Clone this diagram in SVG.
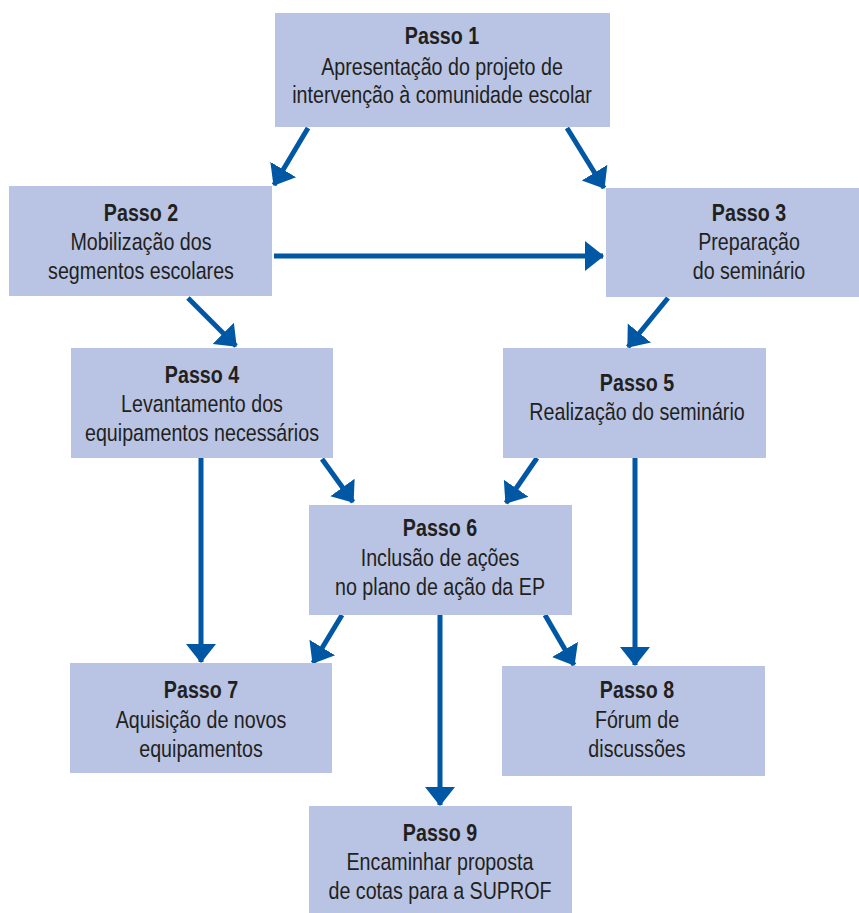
<svg xmlns="http://www.w3.org/2000/svg" width="859" height="913" viewBox="0 0 859 913">
<defs>
<style>
.box{fill:#b9c4e4;}
.t{font-family:"Liberation Sans",Arial,sans-serif;font-size:24px;fill:#231f20;text-anchor:middle;}
.b{font-weight:bold;}
.c{stroke:#0057a3;stroke-width:5;fill:none;marker-end:url(#ah);}
</style>
<marker id="ah" markerUnits="userSpaceOnUse" markerWidth="20" markerHeight="32" viewBox="0 -16 20 32" refX="18" refY="0" orient="auto">
<path d="M0,-15 L19,0 L0,15 z" fill="#0057a3"/>
</marker>
</defs>
<rect width="859" height="913" fill="#ffffff"/>
<g id="connectors">
<line class="c" x1="308" y1="128" x2="274" y2="185"/>
<line class="c" x1="567" y1="128" x2="604" y2="188"/>
<line class="c" x1="274" y1="256" x2="603" y2="256"/>
<line class="c" x1="188" y1="298" x2="236" y2="346"/>
<line class="c" x1="668" y1="298" x2="628" y2="347"/>
<line class="c" x1="322" y1="459" x2="353" y2="502"/>
<line class="c" x1="537" y1="458" x2="506" y2="503"/>
<line class="c" x1="201" y1="458" x2="201" y2="662"/>
<line class="c" x1="635" y1="458" x2="635" y2="665"/>
<line class="c" x1="342" y1="615" x2="313" y2="663"/>
<line class="c" x1="545" y1="615" x2="574" y2="665"/>
<line class="c" x1="440" y1="615" x2="440" y2="805"/>
</g>
<g id="passo1">
<rect class="box" x="275" y="13" width="335" height="114"/>
<g transform="translate(442 0) scale(0.82 1)">
<text class="t b" x="0" y="44">Passo 1</text>
<text class="t" x="0" y="75">Apresentação do projeto de</text>
<text class="t" x="0" y="103">intervenção à comunidade escolar</text>
</g>
</g>
<g id="passo2">
<rect class="box" x="9" y="186" width="263" height="110"/>
<g transform="translate(141 0) scale(0.82 1)">
<text class="t b" x="0" y="221">Passo 2</text>
<text class="t" x="0" y="250">Mobilização dos</text>
<text class="t" x="0" y="279">segmentos escolares</text>
</g>
</g>
<g id="passo3">
<rect class="box" x="606" y="188" width="253" height="109"/>
<g transform="translate(749 0) scale(0.82 1)">
<text class="t b" x="0" y="221">Passo 3</text>
<text class="t" x="0" y="250">Preparação</text>
<text class="t" x="0" y="279">do seminário</text>
</g>
</g>
<g id="passo4">
<rect class="box" x="71" y="348" width="262" height="110"/>
<g transform="translate(202 0) scale(0.82 1)">
<text class="t b" x="0" y="383">Passo 4</text>
<text class="t" x="0" y="412">Levantamento dos</text>
<text class="t" x="0" y="441">equipamentos necessários</text>
</g>
</g>
<g id="passo5">
<rect class="box" x="503" y="348" width="263" height="110"/>
<g transform="translate(637 0) scale(0.82 1)">
<text class="t b" x="0" y="391">Passo 5</text>
<text class="t" x="0" y="420">Realização do seminário</text>
</g>
</g>
<g id="passo6">
<rect class="box" x="309" y="505" width="263" height="110"/>
<g transform="translate(440 0) scale(0.82 1)">
<text class="t b" x="0" y="536">Passo 6</text>
<text class="t" x="0" y="566">Inclusão de ações</text>
<text class="t" x="0" y="595">no plano de ação da EP</text>
</g>
</g>
<g id="passo7">
<rect class="box" x="70" y="663" width="262" height="110"/>
<g transform="translate(201 0) scale(0.82 1)">
<text class="t b" x="0" y="698">Passo 7</text>
<text class="t" x="0" y="728">Aquisição de novos</text>
<text class="t" x="0" y="757">equipamentos</text>
</g>
</g>
<g id="passo8">
<rect class="box" x="502" y="666" width="263" height="110"/>
<g transform="translate(637 0) scale(0.82 1)">
<text class="t b" x="0" y="698">Passo 8</text>
<text class="t" x="0" y="728">Fórum de</text>
<text class="t" x="0" y="757">discussões</text>
</g>
</g>
<g id="passo9">
<rect class="box" x="309" y="806" width="263" height="107"/>
<g transform="translate(440 0) scale(0.82 1)">
<text class="t b" x="0" y="841">Passo 9</text>
<text class="t" x="0" y="870">Encaminhar proposta</text>
<text class="t" x="0" y="899">de cotas para a SUPROF</text>
</g>
</g>
</svg>
